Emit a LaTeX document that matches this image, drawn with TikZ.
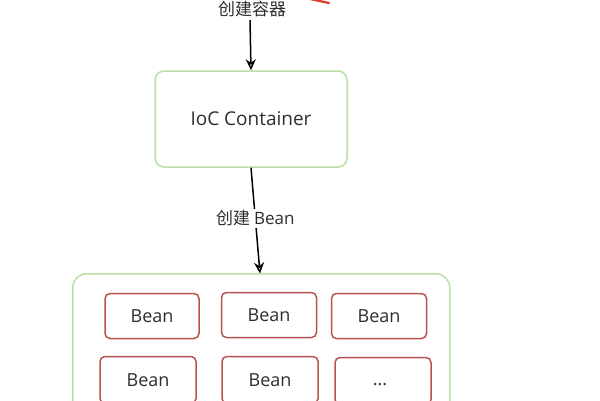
\documentclass[tikz,border=0pt]{standalone}
\usepackage{fontspec}
\setmainfont{Open Sans}
\newfontfamily\cjk{Noto Sans CJK SC}
\usetikzlibrary{arrows.meta}
\definecolor{gbox}{HTML}{B9E0A5}
\definecolor{rbox}{HTML}{B85450}
\definecolor{txt}{HTML}{2E2E2E}
\definecolor{redarr}{HTML}{E0392B}
\tikzset{
  container/.style={draw=gbox, line width=1.5pt, rounded corners=9pt, fill=white, text=txt},
  beanbox/.style={draw=rbox, line width=1.5pt, rounded corners=5pt, fill=white, text=txt, font=\fontsize{18}{20}\selectfont},
  conn/.style={draw=black, line width=1.5pt, -{Stealth[open, length=11pt, width=10pt]}},
  lbl/.style={text=txt, font=\fontsize{17}{19}\selectfont, fill=white, inner sep=2pt}
}
\begin{document}
\begin{tikzpicture}[x=1pt, y=-1pt]
\useasboundingbox (0,0) rectangle (600,400);
\clip (0,0) rectangle (600,400);
\fill[white] (0,0) rectangle (600,400);
% top label
\node[lbl, anchor=center, inner sep=1pt] (top) at (252,9) {\cjk 创建容器};
% red partial stroke
\coordinate (r1) at (310,-1);
\coordinate (r2) at (329,3);
\draw[redarr, line width=2.2pt, line cap=round] (r1) -- (r2);
% IoC container
\node[container, minimum width=192pt, minimum height=96pt, font=\fontsize{19}{21}\selectfont] (ioc) at (251,119) {IoC Container};
% big container
\node[container, rounded corners=14pt, minimum width=377pt, minimum height=160pt, anchor=north west] (big) at (72,273) {};
% beans
\node[beanbox, minimum width=94pt, minimum height=45pt] (b1) at (152,316) {Bean};
\node[beanbox, minimum width=95pt, minimum height=45pt] (b2) at (269,315) {Bean};
\node[beanbox, minimum width=95pt, minimum height=45pt] (b3) at (379,316) {Bean};
\node[beanbox, minimum width=96pt, minimum height=47pt] (b4) at (148,380) {Bean};
\node[beanbox, minimum width=96pt, minimum height=47pt] (b5) at (270,380) {Bean};
\node[beanbox, minimum width=96pt, minimum height=47pt] (b6) at (383,381) {};
\node[text=txt, font=\fontsize{18}{20}\selectfont] (dots) at (380,385) {...};
% connectors
\draw[conn] (top.south -| 250,0) ++(0,2) coordinate (t1) (t1) -- (ioc.north);
\draw[conn] (ioc.south) -- (260,273.5) node[lbl, pos=0.48] (lb) {\cjk 创建\ \normalfont Bean};
\end{tikzpicture}
\end{document}
